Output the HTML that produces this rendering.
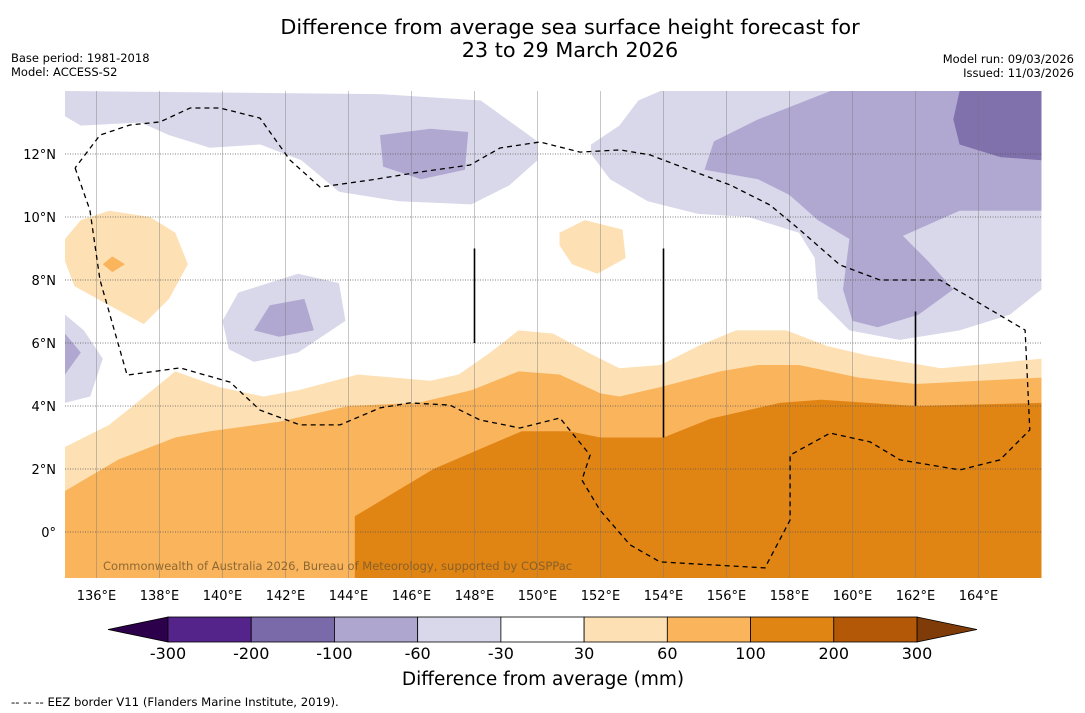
<!DOCTYPE html>
<html><head><meta charset="utf-8"><style>
body{margin:0;background:#fff;font-family:"DejaVu Sans","Liberation Sans",sans-serif;}
svg{display:block}
text{font-family:"DejaVu Sans","Liberation Sans",sans-serif;}
</style></head><body>
<svg id="chart" width="1085" height="713" xmlns="http://www.w3.org/2000/svg">
<rect width="1085" height="713" fill="#fff"/>
<text x="570" y="34" font-size="20.8" text-anchor="middle">Difference from average sea surface height forecast for</text>
<text x="570" y="57" font-size="20.8" text-anchor="middle">23 to 29 March 2026</text>
<text x="11" y="62" font-size="11.5">Base period: 1981-2018</text>
<text x="11" y="76" font-size="11.5">Model: ACCESS-S2</text>
<text x="1074" y="63" font-size="11.5" text-anchor="end">Model run: 09/03/2026</text>
<text x="1074" y="77" font-size="11.5" text-anchor="end">Issued: 11/03/2026</text>
<defs><clipPath id="mapclip"><rect x="65" y="91" width="977" height="487"/></clipPath></defs>
<g id="map" clip-path="url(#mapclip)"></g>
<g id="axes"></g>
<g id="cbar"></g>
<text x="543" y="685" font-size="18.5" text-anchor="middle">Difference from average (mm)</text>
<text x="11" y="706" font-size="11.7">--  --  -- EEZ border V11 (Flanders Marine Institute, 2019).</text>
</svg>
<script>
const lonTicks=[136,138,140,142,144,146,148,150,152,154,156,158,160,162,164];
const latTicks=[0,2,4,6,8,10,12];
const cbarLabels=["-300","-200","-100","-60","-30","30","60","100","200","300"];
const cbarColors=["#55248a","#7b6aaa","#aea6cf","#d8d8ea","#ffffff","#fde0b4","#f9b45c","#e08414","#b35806"];
const lightPurple=[[[135,13.2],[135.5,12.9],[137.4,13],[138.3,12.6],[139.6,12.2],[141.2,12.3],[142.5,11.8],[143.7,10.8],[145.6,10.5],[147.9,10.4],[149.1,11],[150,11.8],[150,12.4],[148.2,13.7],[145,13.9],[135,14]],
[[151.7,12.3],[152.6,12.9],[153.2,13.7],[153.9,14],[166,14],[166,7.7],[165,6.9],[163.4,6.4],[161.5,6.1],[159.9,6.4],[158.9,7.4],[158.8,8.7],[158.3,9.5],[156.7,10],[155.1,10.1],[153.5,10.5],[152.3,11.2],[151.7,12]],
[[140,6.7],[140.5,7.6],[142.4,8.2],[143.7,7.9],[143.9,6.7],[142.4,5.7],[141,5.4],[140.2,5.8]],
[[135,6.9],[135.6,6.4],[136.2,5.5],[135.8,4.3],[135,4.1]]];
const medPurple=[[[155.3,11.5],[155.6,12.4],[157,13.1],[159.3,14],[166,14],[166,10.2],[163.4,10.2],[161.6,9.4],[162.4,8.6],[163.2,7.7],[162.1,6.9],[160.8,6.5],[160,6.7],[159.7,7.7],[159.9,9.3],[158.9,9.9],[158,10.7],[157,11.2]],
[[145,12.6],[146.6,12.8],[147.8,12.7],[147.7,11.5],[146.3,11.2],[145.1,11.6]],
[[141,6.4],[141.5,7.2],[142.6,7.4],[142.9,6.4],[141.8,6.2]],
[[135,6.3],[135.5,5.7],[135,5]]];
const darkPurple=[[[163.4,14],[166,14],[166,11.8],[164.7,11.9],[163.4,12.3],[163.2,13.1]]];
const lightOrange=[[[135,2.7],[136.4,3.4],[137.4,4.2],[138.5,5.1],[139.9,4.6],[141.3,4.3],[142.4,4.5],[144.3,5],[146.6,4.8],[147.5,5],[148.5,5.7],[149.4,6.4],[150.5,6.3],[151.6,5.7],[152.6,5.2],[153.9,5.3],[155.1,5.9],[156.3,6.4],[157.9,6.4],[159.2,5.9],[160.5,5.6],[162.8,5.2],[166,5.5],[166,-1.5],[135,-1.5]],
[[135,9.3],[135.5,9.9],[136.4,10.2],[137.7,10],[138.5,9.5],[138.9,8.5],[138.3,7.4],[137.5,6.6],[136.4,7.2],[135.3,7.8],[135,8.6]],
[[150.7,9.5],[151.5,9.9],[152.7,9.6],[152.8,8.7],[151.9,8.2],[151.1,8.5],[150.7,9.1]]];
const orange=[[[135,1.3],[136.7,2.3],[138.5,3],[139.6,3.2],[141.8,3.5],[144,4],[146.2,4.1],[147.9,4.5],[149.4,5.1],[150.7,5],[152,4.4],[152.6,4.3],[153.9,4.6],[155.8,5.1],[157,5.3],[158.3,5.3],[160.2,4.9],[162,4.7],[166,4.9],[166,-1.5],[135,-1.5]],
[[136.2,8.5],[136.5,8.75],[136.9,8.5],[136.5,8.25]]];
const darkOrange=[[[144.2,0.5],[146.7,2],[149.5,3.2],[151,3.2],[152,3],[154,3],[155.5,3.6],[157.7,4.1],[159,4.2],[160.5,4.1],[162,4],[166,4.1],[166,-1.5],[144.2,-1.5],[144.2,-0.5]]];
const eez=[[135.32,11.56],[135.79,10.22],[136.11,8.0],[136.97,4.98],[138.65,5.21],[140.24,4.76],[141.19,3.87],[142.46,3.4],[143.73,3.4],[145.0,3.94],[145.95,4.1],[147.22,4.03],[148.17,3.56],[149.44,3.3],[150.71,3.62],[151.67,2.44],[151.41,1.65],[151.98,0.7],[152.94,-0.41],[153.89,-0.95],[157.22,-1.14],[158.02,0.38],[158.02,2.44],[159.29,3.14],[160.56,2.86],[161.51,2.29],[163.41,1.97],[164.68,2.29],[165.63,3.24],[165.48,6.41],[162.78,8.0],[160.87,8.0],[159.6,8.48],[158.33,9.59],[157.38,10.38],[156.11,11.02],[154.84,11.49],[153.57,11.97],[152.62,12.13],[151.35,12.06],[150.08,12.38],[148.81,12.19],[147.86,11.65],[146.27,11.43],[144.68,11.17],[143.1,10.95],[142.14,11.81],[141.19,13.14],[139.92,13.46],[138.97,13.46],[138.02,13.02],[137.06,12.92],[136.11,12.6],[135.32,11.56]];
const blackLines=[[148,9,6],[154,9,3],[162,7,4]];

const NS="http://www.w3.org/2000/svg";
const X=lon=>65+(lon-135)*31.5;
const Y=lat=>91+(14-lat)*31.5;
function mk(tag,attrs,parent){const e=document.createElementNS(NS,tag);for(const k in attrs)e.setAttribute(k,attrs[k]);parent.appendChild(e);return e;}
const map=document.getElementById('map');
const axes=document.getElementById('axes');
const pts=p=>p.map(q=>X(q[0]).toFixed(1)+','+Y(q[1]).toFixed(1)).join(' ');
[[lightPurple,'#d8d8ea','light-purple-region'],[medPurple,'#b0a8d0','medium-purple-region'],[darkPurple,'#8070ac','dark-purple-region'],[lightOrange,'#fde0b4','light-orange-region'],[orange,'#f9b45c','orange-region'],[darkOrange,'#e08414','dark-orange-region']].forEach(([polys,c,n])=>{
  polys.forEach(p=>{const e=mk('polygon',{points:pts(p),fill:c},map);
    
    });
});
lonTicks.forEach(l=>{const e=mk('line',{x1:X(l),x2:X(l),y1:91,y2:578,stroke:'#777','stroke-width':0.6,'stroke-opacity':0.7},map);
  
  
  const t=mk('text',{x:X(l),y:600,'font-size':13,'text-anchor':'middle'},axes);t.textContent=l+'°E';
  
  });
latTicks.forEach(l=>{const e=mk('line',{x1:65,x2:1042,y1:Y(l),y2:Y(l),stroke:'#555','stroke-width':0.7,'stroke-dasharray':'1,1.5'},map);
  
  
  const t=mk('text',{x:56,y:Y(l)+5,'font-size':13,'text-anchor':'end'},axes);t.textContent=l===0?'0°':l+'°N';
  
  });
blackLines.forEach(b=>{const e=mk('line',{x1:X(b[0]),x2:X(b[0]),y1:Y(b[1]),y2:Y(b[2]),stroke:'#000','stroke-width':1.6},map);
  
  });
const ez=mk('polyline',{points:pts(eez),fill:'none',stroke:'#000','stroke-width':1.3,'stroke-dasharray':'5,4'},map);


const cr=mk('text',{x:103,y:570,'font-size':11.5,fill:'#7a5a2a','fill-opacity':0.85},map);cr.textContent='Commonwealth of Australia 2026, Bureau of Meteorology, supported by COSPPac';


const cb=document.getElementById('cbar');
const cx0=168,cx1=917,cy=617,ch=25,w=(cx1-cx0)/cbarColors.length;
const lt=mk('polygon',{points:`${cx0},${cy} 108,${cy+ch/2} ${cx0},${cy+ch}`,fill:'#2d004b',stroke:'#000','stroke-width':0.8},cb);


const rt=mk('polygon',{points:`${cx1},${cy} 977,${cy+ch/2} ${cx1},${cy+ch}`,fill:'#7f3b08',stroke:'#000','stroke-width':0.8},cb);


cbarColors.forEach((c,i)=>{const r=mk('rect',{x:cx0+i*w,y:cy,width:w,height:ch,fill:c,stroke:'#000','stroke-width':0.8},cb);
  
  });
cbarLabels.forEach((s,i)=>{const t=mk('text',{x:cx0+i*w,y:659,'font-size':16,'text-anchor':'middle'},cb);t.textContent=s;
  
  });
</script>
</body></html>
